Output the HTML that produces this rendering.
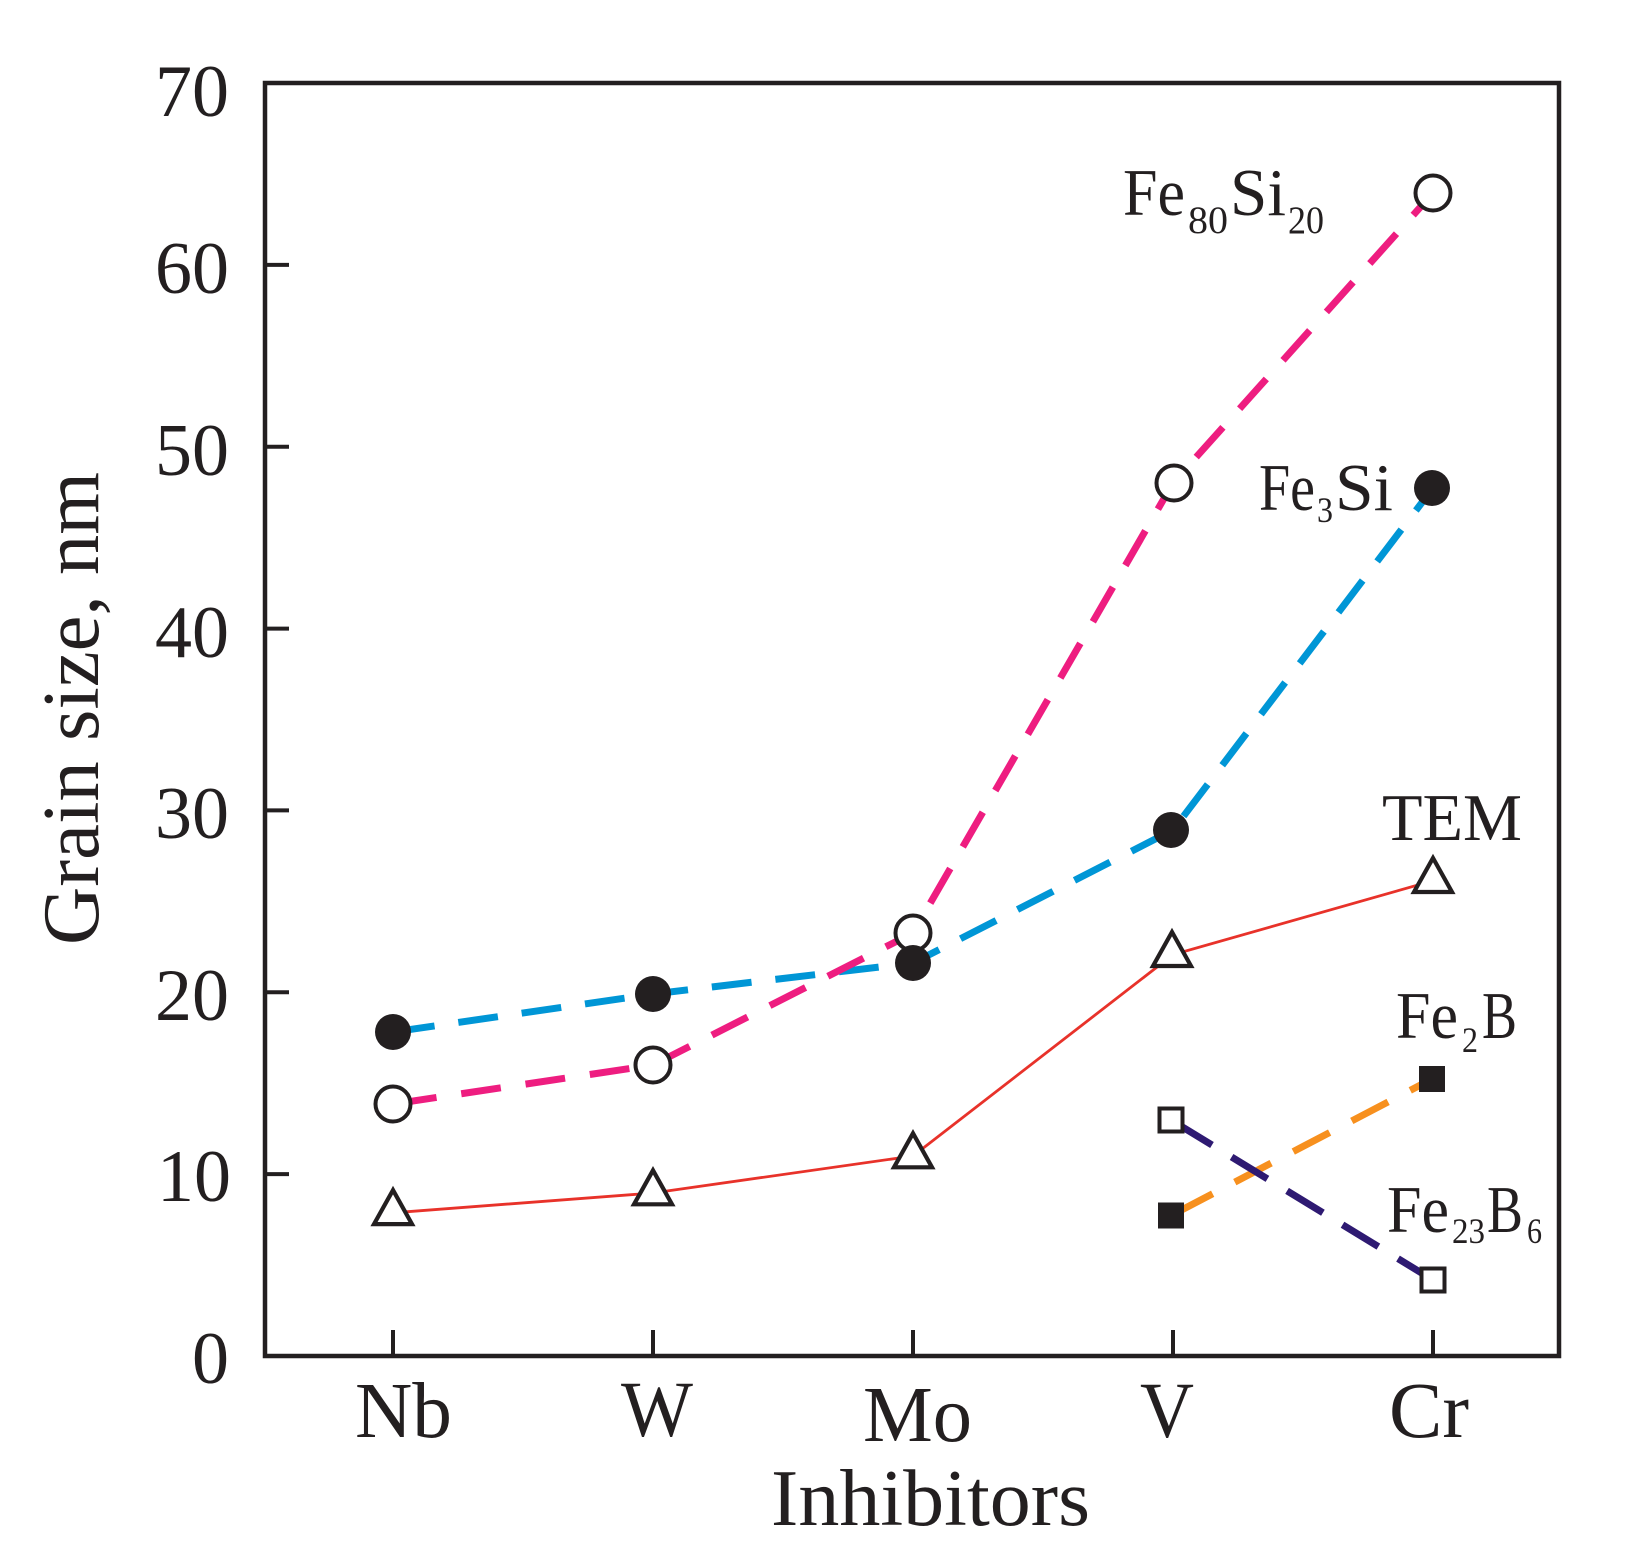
<!DOCTYPE html>
<html>
<head>
<meta charset="utf-8">
<style>
  html, body { margin: 0; padding: 0; background: #ffffff; }
  svg { display: block; }
  text { font-family: "Liberation Serif", "DejaVu Serif", serif; fill: #231f20; }
</style>
</head>
<body>
<svg width="1632" height="1564" viewBox="0 0 1632 1564" xmlns="http://www.w3.org/2000/svg">
  <rect x="0" y="0" width="1632" height="1564" fill="#ffffff"/>

  <!-- Plot frame -->
  <rect x="265" y="83" width="1294" height="1273" fill="none" stroke="#231f20" stroke-width="4.5"/>

  <!-- Y ticks -->
  <g stroke="#231f20" stroke-width="4">
    <line x1="265" y1="1174.1" x2="289" y2="1174.1"/>
    <line x1="265" y1="992.3" x2="289" y2="992.3"/>
    <line x1="265" y1="810.4" x2="289" y2="810.4"/>
    <line x1="265" y1="628.6" x2="289" y2="628.6"/>
    <line x1="265" y1="446.7" x2="289" y2="446.7"/>
    <line x1="265" y1="264.9" x2="289" y2="264.9"/>
  </g>
  <!-- X ticks -->
  <g stroke="#231f20" stroke-width="4">
    <line x1="393" y1="1356" x2="393" y2="1330"/>
    <line x1="653" y1="1356" x2="653" y2="1330"/>
    <line x1="913" y1="1356" x2="913" y2="1330"/>
    <line x1="1173" y1="1356" x2="1173" y2="1330"/>
    <line x1="1433" y1="1356" x2="1433" y2="1330"/>
  </g>

  <!-- Y tick labels -->
  <g font-size="74" text-anchor="end">
    <text x="229" y="116">70</text>
    <text x="229" y="293">60</text>
    <text x="229" y="475">50</text>
    <text x="229" y="657">40</text>
    <text x="229" y="838">30</text>
    <text x="229" y="1020">20</text>
    <text x="231" y="1201">10</text>
    <text x="229" y="1383">0</text>
  </g>

  <!-- X tick labels -->
  <g font-size="79">
    <text x="355" y="1437" textLength="97" lengthAdjust="spacingAndGlyphs">Nb</text>
    <text x="621" y="1436" textLength="72" lengthAdjust="spacingAndGlyphs">W</text>
    <text x="863" y="1441" textLength="109" lengthAdjust="spacingAndGlyphs">Mo</text>
    <text x="1140" y="1437" textLength="54" lengthAdjust="spacingAndGlyphs">V</text>
    <text x="1389" y="1437" textLength="80" lengthAdjust="spacingAndGlyphs">Cr</text>
  </g>

  <!-- Axis titles -->
  <text x="771" y="1525" font-size="80" textLength="319" lengthAdjust="spacingAndGlyphs">Inhibitors</text>
  <text x="0" y="0" font-size="80" text-anchor="middle" textLength="473" lengthAdjust="spacingAndGlyphs"
        transform="translate(98,708.5) rotate(-90)">Grain size, nm</text>

  <!-- TEM (red solid) -->
  <polyline points="393,1212.8 653,1193 913,1156 1173,954.7 1433,880.7"
            fill="none" stroke="#E8322A" stroke-width="2.8"/>

  <!-- Fe3Si (blue dashed) -->
  <polyline points="393,1032 653,994 913,963 1173,830 1433,488"
            fill="none" stroke="#0096D6" stroke-width="7" stroke-dasharray="40 24" stroke-dashoffset="-2"/>

  <!-- Fe80Si20 (pink dashed) -->
  <polyline points="393,1104 653,1065 913,933 1173,483 1433,193"
            fill="none" stroke="#EE1D80" stroke-width="7" stroke-dasharray="40 25" stroke-dashoffset="-4"/>

  <!-- Fe2B (orange dashed) -->
  <line x1="1171" y1="1215.5" x2="1432" y2="1079" stroke="#F7901E" stroke-width="7" stroke-dasharray="41 25" stroke-dashoffset="-6"/>

  <!-- Fe23B6 (navy dashed) -->
  <line x1="1171" y1="1120" x2="1433" y2="1280" stroke="#2E1A72" stroke-width="7" stroke-dasharray="42 23" stroke-dashoffset="-6"/>

  <!-- Triangles (TEM) -->
  <g fill="#ffffff" stroke="#231f20" stroke-width="4.2" stroke-linejoin="miter">
    <polygon points="393,1190.1 374,1224.1 412,1224.1"/>
    <polygon points="653,1170.3 634,1204.3 672,1204.3"/>
    <polygon points="913,1133.3 894,1167.3 932,1167.3"/>
    <polygon points="1172,932 1153,966 1191,966"/>
    <polygon points="1433,858 1414,892 1452,892"/>
  </g>

  <!-- Open circles (Fe80Si20) -->
  <g fill="#ffffff" stroke="#231f20" stroke-width="4">
    <circle cx="393" cy="1104" r="17.5"/>
    <circle cx="653" cy="1065" r="17.5"/>
    <circle cx="913" cy="933" r="17.5"/>
    <circle cx="1174" cy="483" r="17.5"/>
    <circle cx="1433" cy="193" r="17.5"/>
  </g>

  <!-- Filled circles (Fe3Si) -->
  <g fill="#231f20">
    <circle cx="393" cy="1032" r="18"/>
    <circle cx="653" cy="994" r="18"/>
    <circle cx="913" cy="963" r="18"/>
    <circle cx="1171" cy="830" r="18"/>
    <circle cx="1432" cy="488" r="18"/>
  </g>

  <!-- Squares -->
  <g fill="#ffffff" stroke="#231f20" stroke-width="4">
    <rect x="1159.5" y="1108.5" width="23" height="23"/>
    <rect x="1421.5" y="1268.5" width="23" height="23"/>
  </g>
  <g fill="#231f20">
    <rect x="1158" y="1202.5" width="26" height="26"/>
    <rect x="1419" y="1066" width="26" height="26"/>
  </g>

  <!-- Series labels -->
  <g font-size="67">
    <!-- Fe80Si20 -->
    <text x="1123" y="215" textLength="62" lengthAdjust="spacingAndGlyphs">Fe</text>
    <text x="1188" y="233" font-size="39" textLength="40" lengthAdjust="spacingAndGlyphs">80</text>
    <text x="1230" y="215" textLength="56" lengthAdjust="spacingAndGlyphs">Si</text>
    <text x="1288" y="233" font-size="39" textLength="36" lengthAdjust="spacingAndGlyphs">20</text>

    <!-- Fe3Si -->
    <text x="1259" y="510" textLength="56" lengthAdjust="spacingAndGlyphs">Fe</text>
    <text x="1317" y="522" font-size="36" textLength="16" lengthAdjust="spacingAndGlyphs">3</text>
    <text x="1335" y="510" textLength="58" lengthAdjust="spacingAndGlyphs">Si</text>

    <!-- TEM -->
    <text x="1382" y="840" textLength="140" lengthAdjust="spacingAndGlyphs">TEM</text>

    <!-- Fe2B -->
    <text x="1396" y="1038" textLength="62" lengthAdjust="spacingAndGlyphs">Fe</text>
    <text x="1462" y="1052" font-size="36" textLength="16" lengthAdjust="spacingAndGlyphs">2</text>
    <text x="1482" y="1038" textLength="35" lengthAdjust="spacingAndGlyphs">B</text>

    <!-- Fe23B6 -->
    <text x="1387" y="1232" textLength="62" lengthAdjust="spacingAndGlyphs">Fe</text>
    <text x="1452" y="1243" font-size="36" textLength="33" lengthAdjust="spacingAndGlyphs">23</text>
    <text x="1487" y="1232" textLength="36" lengthAdjust="spacingAndGlyphs">B</text>
    <text x="1527" y="1243" font-size="36" textLength="15" lengthAdjust="spacingAndGlyphs">6</text>
  </g>
</svg>
</body>
</html>
